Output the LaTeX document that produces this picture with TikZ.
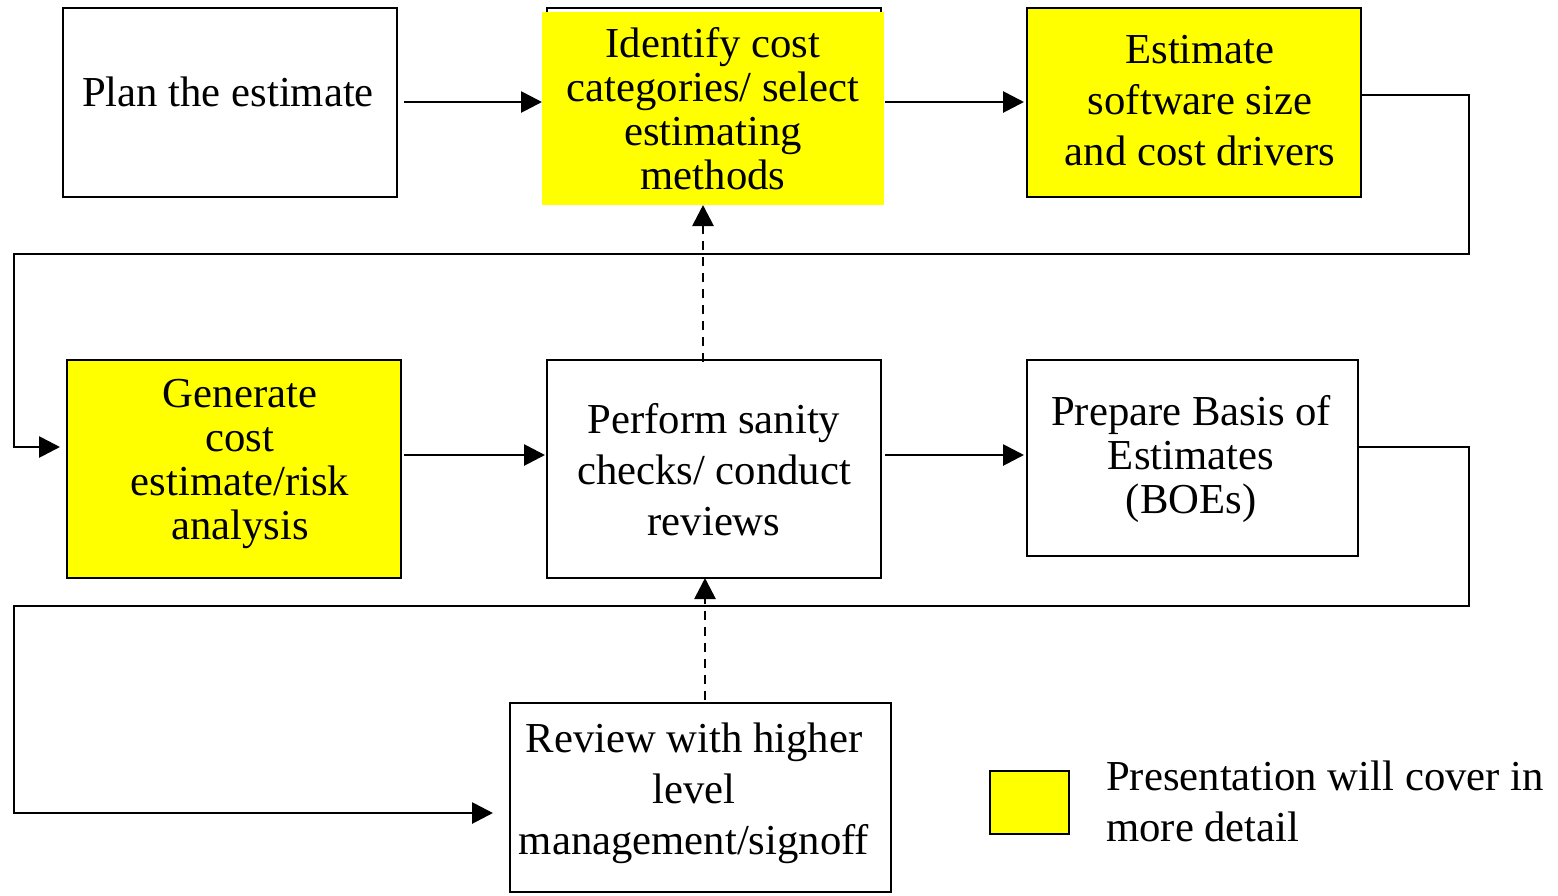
\documentclass[tikz,border=0pt]{standalone}
\usepackage{fontspec}
\setmainfont{Liberation Serif}
\usetikzlibrary{arrows.meta,calc}
\definecolor{hilite}{RGB}{255,255,0}
\tikzset{
  box/.style={draw=black, line width=2.8pt, inner sep=0pt, outer sep=0pt},
  hl/.style={box, fill=hilite},
  plain/.style={box, fill=white},
  lbl/.style={align=center, inner sep=0pt, font=\fontsize{42.7}{44}\selectfont},
  lblwide/.style={lbl, font=\fontsize{42.7}{51}\selectfont},
  flow/.style={line width=2.8pt, -{Triangle[length=21pt,width=21pt]}},
  dashflow/.style={flow, dash pattern=on 9pt off 7pt},
}
\begin{document}
\begin{tikzpicture}[x=1pt,y=-1pt]
\useasboundingbox (0,0) rectangle (1558,895);

% process boxes
\node[plain, minimum width=334pt, minimum height=189pt] (plan) at (230,102.5) {};
\node[plain, minimum width=334pt, minimum height=189pt] (idbox) at (714,102.5) {};
\node[fill=hilite, inner sep=0pt, outer sep=0pt, minimum width=342pt, minimum height=193pt] (idfill) at (713,108.5) {};
\node[hl, minimum width=334pt, minimum height=189pt] (est) at (1194,102.5) {};
\node[hl, minimum width=334pt, minimum height=218pt] (gen) at (234,469) {};
\node[plain, minimum width=334pt, minimum height=218pt] (perf) at (714,469) {};
\node[plain, minimum width=331pt, minimum height=196pt] (prep) at (1192.5,458) {};
\node[plain, minimum width=381pt, minimum height=189pt] (rev) at (700.5,797.5) {};
\node[hl, minimum width=79pt, minimum height=63pt] (legbox) at (1029.5,802.5) {};

% labels
\node[lbl] (tplan) at (228,92) {Plan the estimate};
\node[lbl] (tid) at (713,109) {Identify cost\\categories/ select\\estimating\\methods};
\node[lblwide] (test) at (1200,101) {Estimate\\software size\\and cost drivers};
\node[lbl] (tgen) at (240,464) {Generate\\cost\\estimate/risk\\analysis};
\node[lblwide] (tperf) at (714,469.5) {Perform sanity\\checks/ conduct\\reviews};
\node[lbl] (tprep) at (1191,459) {Prepare Basis of\\Estimates\\(BOEs)};
\node[lblwide] (trev) at (694,793) {Review with higher\\level\\management/signoff};
\node[lblwide, align=left, anchor=west] (tleg) at (1106,801.5) {Presentation will cover in\\more detail};

% turn points of the return lines
\coordinate (r1) at (1469,254);
\coordinate (l1) at (14,254);
\coordinate (r2) at (1469,606);
\coordinate (l2) at (14,606);

% top row
\draw[flow] ($(plan.east)+(7,-0.5)$) -- (idfill.west |- {$(plan.east)+(0,-0.5)$});
\draw[flow] ($(idfill.east)+(1,-6.5)$) -- ($(est.west)+(-3,-0.5)$);
\draw[flow] ($(est.east)+(0,-7.5)$) -| (r1) -- (l1) |- ($(gen.west)+(-7,-22)$);

% middle row
\draw[flow] ($(gen.east)+(3,-14)$) -- ($(perf.west)+(-2,-14)$);
\draw[flow] ($(perf.east)+(4,-14)$) -- ($(prep.west)+(-3,-3)$);
\draw[flow] ($(prep.east)+(0,-11)$) -| (r2) -- (l2) |- ($(rev.west)+(-17,15.5)$);

% review loops
\draw[dashflow] ($(perf.north)+(-11,2)$) -- ($(idfill.south)+(-10,0)$);
\draw[dashflow] ($(rev.north)+(4.5,-3)$) -- ($(perf.south)+(-9,0)$);
\end{tikzpicture}
\end{document}
